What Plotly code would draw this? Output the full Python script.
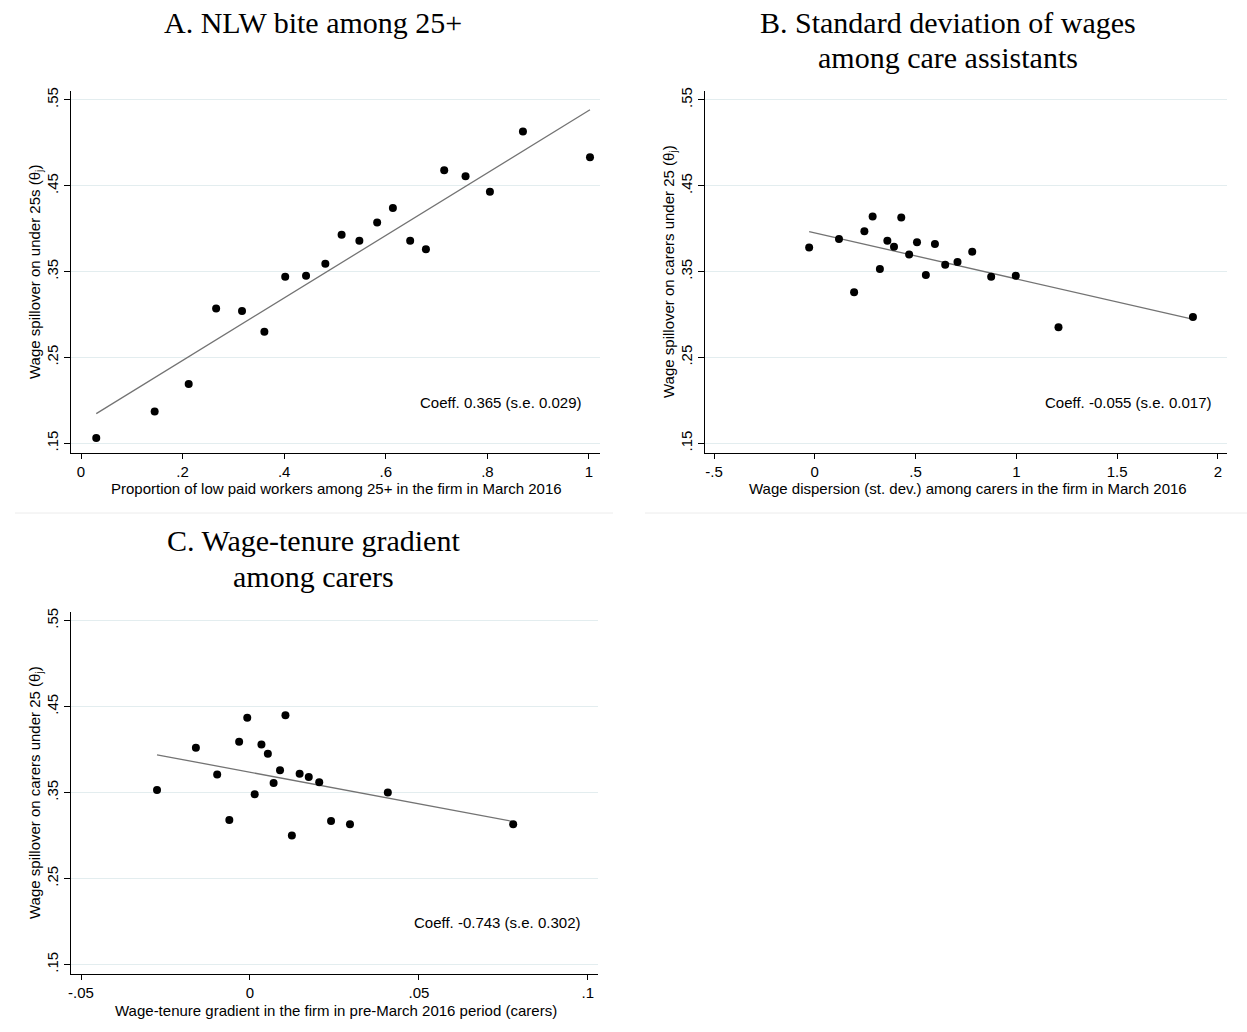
import plotly.graph_objects as go

# ---------------- data ----------------
a_x = [0.030, 0.145, 0.212, 0.266, 0.317, 0.361, 0.402, 0.443, 0.481, 0.513,
       0.548, 0.583, 0.614, 0.648, 0.679, 0.715, 0.757, 0.805, 0.870, 1.002]
a_y = [0.156, 0.187, 0.219, 0.307, 0.304, 0.280, 0.344, 0.345, 0.359, 0.393,
       0.386, 0.407, 0.424, 0.386, 0.376, 0.468, 0.461, 0.443, 0.513, 0.483]
a_fit_x = [0.030, 1.002]
a_fit_y = [0.1845, 0.5384]

b_x = [-0.028, 0.120, 0.195, 0.246, 0.287, 0.323, 0.360, 0.393, 0.429, 0.468,
       0.507, 0.551, 0.596, 0.647, 0.708, 0.781, 0.875, 0.997, 1.209, 1.876]
b_y = [0.378, 0.388, 0.326, 0.397, 0.414, 0.353, 0.386, 0.379, 0.413, 0.370,
       0.384, 0.346, 0.382, 0.358, 0.361, 0.373, 0.344, 0.345, 0.285, 0.297]
b_fit_x = [-0.028, 1.868]
b_fit_y = [0.3965, 0.2950]

c_x = [-0.0275, -0.0160, -0.0097, -0.0061, -0.0032, -0.0008, 0.0014, 0.0034, 0.0053, 0.0070,
       0.0089, 0.0105, 0.0124, 0.0147, 0.0174, 0.0205, 0.0240, 0.0296, 0.0408, 0.0779]
c_y = [0.353, 0.402, 0.371, 0.318, 0.409, 0.437, 0.348, 0.406, 0.395, 0.361,
       0.376, 0.440, 0.300, 0.372, 0.368, 0.362, 0.317, 0.313, 0.350, 0.313]
c_fit_x = [-0.0275, 0.0775]
c_fit_y = [0.3939, 0.3166]

y_tickvals = [0.15, 0.25, 0.35, 0.45, 0.55]
y_ticktext = [".15", ".25", ".35", ".45", ".55"]
a_xtickvals = [0, 0.2, 0.4, 0.6, 0.8, 1]
a_xticktext = ["0", ".2", ".4", ".6", ".8", "1"]
b_xtickvals = [-0.5, 0, 0.5, 1, 1.5, 2]
b_xticktext = ["-.5", "0", ".5", "1", "1.5", "2"]
c_xtickvals = [-0.05, 0, 0.05, 0.1]
c_xticktext = ["-.05", "0", ".05", ".1"]

title_lines = {
    "A": ["A. NLW bite among 25+"],
    "B": ["B. Standard deviation of wages", "among care assistants"],
    "C": ["C. Wage-tenure gradient", "among carers"],
}
xtitles = {
    "A": "Proportion of low paid workers among 25+ in the firm in March 2016",
    "B": "Wage dispersion (st. dev.) among carers in the firm in March 2016",
    "C": "Wage-tenure gradient in the firm in pre-March 2016 period (carers)",
}
ytitles = {
    "A": "Wage spillover on under 25s (θ<sub>j</sub>)",
    "B": "Wage spillover on carers under 25 (θ<sub>j</sub>)",
    "C": "Wage spillover on carers under 25 (θ<sub>j</sub>)",
}
coeffs = {
    "A": "Coeff. 0.365 (s.e. 0.029)",
    "B": "Coeff. -0.055 (s.e. 0.017)",
    "C": "Coeff. -0.743 (s.e. 0.302)",
}

W, H = 1247, 1032
SANS = "Liberation Sans, Arial, sans-serif"
SERIF = "Liberation Serif, Times New Roman, serif"
GRID = "#e3edef"
LINE_COL = "rgb(115,115,115)"
FS = 15

fig = go.Figure()

panels = [
    ("A", a_x, a_y, a_fit_x, a_fit_y, "x", "y"),
    ("B", b_x, b_y, b_fit_x, b_fit_y, "x2", "y2"),
    ("C", c_x, c_y, c_fit_x, c_fit_y, "x3", "y3"),
]
for key, xs, ys, fx, fy, xa, ya in panels:
    fig.add_trace(go.Scatter(x=fx, y=fy, mode="lines", xaxis=xa, yaxis=ya,
                             line=dict(color=LINE_COL, width=1.3),
                             showlegend=False, hoverinfo="skip"))
    fig.add_trace(go.Scatter(x=xs, y=ys, mode="markers", xaxis=xa, yaxis=ya,
                             marker=dict(color="black", size=8, line=dict(width=0)),
                             showlegend=False))

def px_x(p):
    return p / W

def px_y(p):
    return 1 - p / H

yrange = [0.139, 0.5603]
common_y = dict(range=yrange, tickvals=y_tickvals, ticktext=y_ticktext, tickangle=-90,
                showgrid=True, gridcolor=GRID, gridwidth=1, zeroline=False,
                showline=True, linecolor="black", linewidth=1, ticks="outside",
                ticklen=6, tickcolor="black", tickwidth=1,
                tickfont=dict(family=SANS, size=FS, color="black"), fixedrange=True)
common_x = dict(showgrid=False, zeroline=False, showline=True, linecolor="black",
                linewidth=1, ticks="outside", ticklen=5, tickcolor="black", tickwidth=1,
                tickfont=dict(family=SANS, size=FS, color="black"), fixedrange=True)

fig.update_layout(
    width=W, height=H, margin=dict(l=0, r=0, t=0, b=0),
    paper_bgcolor="white", plot_bgcolor="white", template="none",
    xaxis=dict(common_x, domain=[px_x(71), px_x(600)], range=[-0.0197, 1.0217],
               tickvals=a_xtickvals, ticktext=a_xticktext, anchor="y"),
    yaxis=dict(common_y, domain=[px_y(452.7), px_y(91)], anchor="x"),
    xaxis2=dict(common_x, domain=[px_x(705), px_x(1227)], range=[-0.5447, 2.045],
                tickvals=b_xtickvals, ticktext=b_xticktext, anchor="y2"),
    yaxis2=dict(common_y, domain=[px_y(452.7), px_y(91)], anchor="x2"),
    xaxis3=dict(common_x, domain=[px_x(71), px_x(598)], range=[-0.05296, 0.103],
                tickvals=c_xtickvals, ticktext=c_xticktext, anchor="y3"),
    yaxis3=dict(common_y, domain=[px_y(974), px_y(611.7)], anchor="x3"),
)

annotations = []
# panel titles, one annotation per line for tight line spacing
title_pos = {"A": (313, 22), "B": (948, 22), "C": (313, 540)}
for k, lines in title_lines.items():
    cx, cy = title_pos[k]
    for i, line in enumerate(lines):
        annotations.append(dict(text=line, x=px_x(cx), y=px_y(cy + 36 * i), xref="paper", yref="paper",
                                showarrow=False, font=dict(family=SERIF, size=30, color="black"),
                                xanchor="center", yanchor="middle"))

# axis titles
xt_pos = {"A": (336, 489), "B": (968, 489), "C": (336, 1010)}
yt_pos = {"A": (35, 272), "B": (669, 272), "C": (35, 793)}
for k in ["A", "B", "C"]:
    annotations.append(dict(text=xtitles[k], x=px_x(xt_pos[k][0]), y=px_y(xt_pos[k][1]),
                            xref="paper", yref="paper", showarrow=False,
                            font=dict(family=SANS, size=FS, color="black"),
                            xanchor="center", yanchor="middle"))
    annotations.append(dict(text=ytitles[k], x=px_x(yt_pos[k][0]), y=px_y(yt_pos[k][1]),
                            xref="paper", yref="paper", showarrow=False, textangle=-90,
                            font=dict(family=SANS, size=FS, color="black"),
                            xanchor="center", yanchor="middle"))

# coefficient notes (data coordinates)
annotations.append(dict(text=coeffs["A"], x=0.99, y=0.197, xref="x", yref="y", showarrow=False,
                        xanchor="right", yanchor="middle", font=dict(family=SANS, size=FS, color="black")))
annotations.append(dict(text=coeffs["B"], x=1.98, y=0.197, xref="x2", yref="y2", showarrow=False,
                        xanchor="right", yanchor="middle", font=dict(family=SANS, size=FS, color="black")))
annotations.append(dict(text=coeffs["C"], x=0.0985, y=0.199, xref="x3", yref="y3", showarrow=False,
                        xanchor="right", yanchor="middle", font=dict(family=SANS, size=FS, color="black")))
fig.update_layout(annotations=annotations)

# thin separators between panel rows
shapes = [
    dict(type="line", xref="paper", yref="paper", x0=px_x(15), x1=px_x(613), y0=px_y(513), y1=px_y(513),
         line=dict(color="#ececec", width=1)),
    dict(type="line", xref="paper", yref="paper", x0=px_x(645), x1=1, y0=px_y(513), y1=px_y(513),
         line=dict(color="#ececec", width=1)),
]
fig.update_layout(shapes=shapes)

fig.write_html("out.html")
